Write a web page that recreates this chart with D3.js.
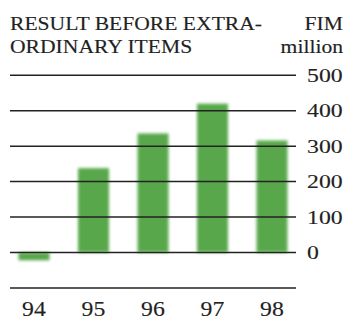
<!DOCTYPE html>
<html>
<head>
<meta charset="utf-8">
<script src="https://cdn.jsdelivr.net/npm/d3@7"></script>
<style>
  html, body { margin: 0; padding: 0; background: #fff; }
  svg { display: block; }
</style>
</head>
<body>
<svg id="chart" width="347" height="320"></svg>
<script>
// Result before extraordinary items, FIM million
const years = ["94", "95", "96", "97", "98"];
const results = [-22, 238, 336, 420, 316];
const gridValues = [-100, 0, 100, 200, 300, 400, 500];
const tickLabels = [0, 100, 200, 300, 400, 500];
const titleLines = ["RESULT BEFORE EXTRA-", "ORDINARY ITEMS"];
const unitLines = ["FIM", "million"];

const serif = "'Liberation Serif', 'Times New Roman', serif";

const svg = d3.select("#chart")
  .attr("font-family", serif)
  .style("font-family", serif);

const x = d3.scaleBand().domain(years).range([4.25, 301.75]).paddingInner(0.48).paddingOuter(0.24);
const y = d3.scaleLinear().domain([0, 500]).range([252.5, 75.3]);

const defs = svg.append("defs");
defs.append("filter").attr("id", "soft")
  .attr("x", "-20%").attr("y", "-20%").attr("width", "140%").attr("height", "140%")
  .append("feGaussianBlur").attr("stdDeviation", 1.6);

// bars
svg.append("g").attr("filter", "url(#soft)")
  .selectAll("rect").data(results).join("rect")
  .attr("x", (d, i) => x(years[i]))
  .attr("width", x.bandwidth())
  .attr("y", d => y(Math.max(0, d)))
  .attr("height", d => Math.abs(y(d) - y(0)))
  .attr("fill", "#58a84c");

// horizontal rules
svg.append("g").selectAll("line").data(gridValues).join("line")
  .attr("x1", 10).attr("x2", 296)
  .attr("y1", d => y(d)).attr("y2", d => y(d))
  .attr("stroke", "#222").attr("stroke-width", 1.5);

// widen glyphs a little: the typeface is a broad book serif
function widen(sel, factor) {
  sel.each(function () {
    const w = this.getComputedTextLength();
    d3.select(this).attr("textLength", w * factor).attr("lengthAdjust", "spacingAndGlyphs");
  });
}

const txt = g => g.attr("fill", "#222").attr("font-family", serif).attr("stroke", "#222").attr("stroke-width", 0.12);

// value labels on the right
svg.append("g").call(txt).selectAll("text").data(tickLabels).join("text")
  .attr("x", 307).attr("y", d => y(d) + 6.5)
  .attr("font-size", 19)
  .text(d => d)
  .call(widen, 1.25);

// year labels
svg.append("g").call(txt).selectAll("text").data(years).join("text")
  .attr("x", d => x(d) + x.bandwidth() / 2)
  .attr("y", 316)
  .attr("text-anchor", "middle")
  .attr("font-size", 22)
  .text(d => d)
  .call(widen, 1.08);

// title
svg.append("g").call(txt).selectAll("text").data(titleLines).join("text")
  .attr("x", 10).attr("y", (d, i) => 30 + i * 22.5)
  .attr("font-size", 18)
  .text(d => d)
  .call(widen, 1.2);

// unit
svg.append("g").call(txt).selectAll("text").data(unitLines).join("text")
  .attr("x", 343).attr("y", (d, i) => 30 + i * 22.5)
  .attr("text-anchor", "end")
  .attr("font-size", 18)
  .text(d => d)
  .call(widen, 1.2);
</script>
</body>
</html>
